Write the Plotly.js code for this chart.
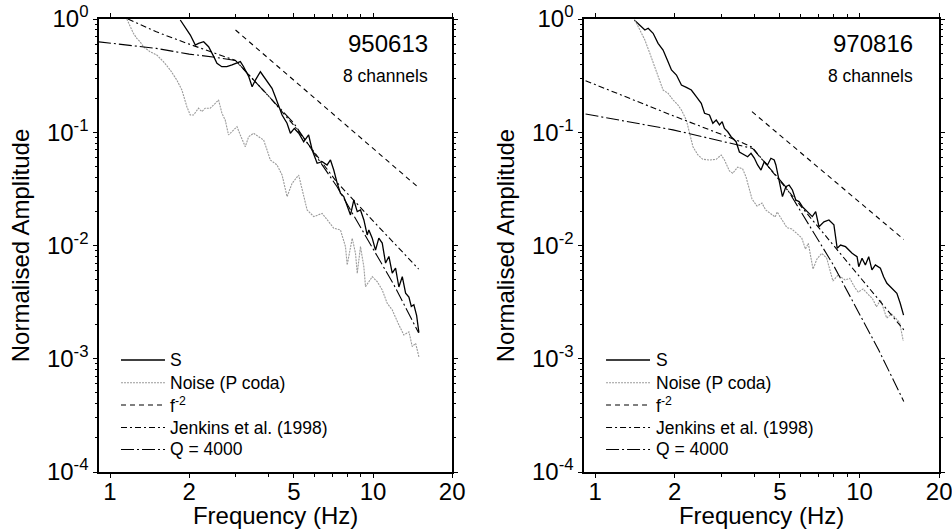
<!DOCTYPE html>
<html>
<head>
<meta charset="utf-8">
<script src="https://cdn.plot.ly/plotly-3.0.1.min.js"></script>
<style>html,body{margin:0;padding:0;background:#fff;}#chart{width:952px;height:529px;}</style>
</head>
<body>
<div id="chart"></div>
<script>
// ---------- Event 950613 (left panel) ----------
const leftS_f = [1.85,1.96,2.02,2.11,2.17,2.27,2.37,2.48,2.55,2.66,2.78,2.91,3.04,3.13,3.22,3.37,3.47,3.57,3.73,3.84,3.95,4.13,4.25,4.38,4.51,4.71,4.85,5.02,5.22,5.45,5.69,5.87,6.13,6.41,6.69,6.89,7.09,7.31,7.52,7.74,8.09,8.21,8.45,8.71,8.96,9.23,9.50,9.64,9.93,10.22,10.52,10.84,11.16,11.49,11.83,12.18,12.54,12.92,13.30,13.69,13.98,14.30,14.65,14.94];
const leftS_a = [0.98,0.80,0.722,0.589,0.61,0.63,0.569,0.465,0.406,0.379,0.379,0.393,0.406,0.42,0.379,0.309,0.252,0.289,0.342,0.309,0.280,0.244,0.206,0.168,0.142,0.120,0.098,0.108,0.098,0.0825,0.0946,0.0697,0.0532,0.055,0.0514,0.0569,0.0464,0.0354,0.0289,0.027,0.0206,0.0186,0.0252,0.0199,0.0206,0.0168,0.0124,0.0137,0.0116,0.0091,0.0116,0.0105,0.0070,0.0080,0.0057,0.0063,0.0043,0.0053,0.0038,0.0035,0.0029,0.0030,0.0024,0.0017];

const leftN_f = [1.158,1.227,1.264,1.301,1.339,1.420,1.506,1.596,1.693,1.795,1.876,1.960,2.018,2.077,2.170,2.235,2.301,2.404,2.512,2.586,2.664,2.742,2.822,2.950,3.039,3.128,3.268,3.365,3.515,3.673,3.837,3.954,4.069,4.315,4.51,4.712,4.923,5.215,5.374,5.614,5.952,6.405,6.787,7.091,7.518,7.857,7.975,8.334,8.578,8.71,8.96,9.226,9.364,9.93,10.375,10.84,11.32,11.83,12.54,13.10,13.69,14.10,14.52,14.94];
const leftN_a = [1.0,0.748,0.675,0.630,0.569,0.514,0.481,0.420,0.355,0.289,0.236,0.168,0.142,0.142,0.163,0.152,0.163,0.163,0.180,0.193,0.147,0.128,0.0946,0.1047,0.112,0.0946,0.0745,0.0913,0.0979,0.0913,0.0854,0.0697,0.0569,0.0514,0.0419,0.027,0.0354,0.0419,0.0309,0.0206,0.018,0.0192,0.0162,0.0142,0.0137,0.00976,0.00673,0.01158,0.00853,0.00568,0.00976,0.0065,0.00433,0.0053,0.00479,0.00405,0.00309,0.0027,0.00199,0.00162,0.00173,0.00128,0.00137,0.00104];

const leftF2_f = [3.0, 15.0];
const leftF2_a = [0.80, 0.032];

const leftJ_f = [1.17, 1.5, 2.0, 2.5, 3.0, 4.0, 5.0, 6.0, 7.3, 10.0, 14.9];
const leftJ_a = [1.0, 0.77, 0.60, 0.50, 0.43, 0.21, 0.115, 0.066, 0.036, 0.0165, 0.0062];

const leftQ_f = [0.9, 1.5, 2.0, 2.5, 3.0, 4.0, 5.0, 7.3, 10.0, 12.0, 14.9];
const leftQ_a = [0.63, 0.55, 0.49, 0.46, 0.43, 0.21, 0.12, 0.033, 0.0092, 0.0045, 0.0017];

// ---------- Event 970816 (right panel) ----------
const rightS_f = [1.406,1.476,1.542,1.587,1.657,1.730,1.807,1.887,1.944,2.030,2.120,2.213,2.311,2.413,2.520,2.593,2.707,2.787,2.871,2.953,3.023,3.084,3.173,3.268,3.413,3.512,3.667,3.774,3.886,3.999,4.115,4.239,4.362,4.487,4.621,4.756,4.826,4.966,5.110,5.263,5.416,5.573,5.740,5.906,6.077,6.346,6.627,6.825,7.023,7.334,7.659,7.998,8.230,8.476,8.851,9.372,9.786,9.931,10.22,10.52,10.83,11.14,11.48,11.99,12.33,12.69,13.07,13.45,13.84,14.25,14.67];
const rightS_a = [0.98,0.885,0.80,0.828,0.748,0.61,0.532,0.42,0.355,0.320,0.261,0.249,0.236,0.206,0.180,0.147,0.142,0.120,0.128,0.116,0.124,0.108,0.101,0.0913,0.0825,0.0669,0.063,0.0608,0.0652,0.0592,0.0514,0.0464,0.055,0.0514,0.0589,0.0569,0.0514,0.0364,0.027,0.033,0.0342,0.0309,0.0252,0.0244,0.022,0.0199,0.018,0.0199,0.01466,0.0162,0.0168,0.0152,0.00945,0.0101,0.00976,0.00853,0.00796,0.0065,0.0077,0.00673,0.00796,0.00608,0.00673,0.00629,0.0053,0.00464,0.00433,0.00405,0.00378,0.00309,0.00243];

const rightN_f = [1.414,1.476,1.542,1.610,1.681,1.756,1.807,1.887,1.970,2.058,2.120,2.213,2.278,2.344,2.447,2.555,2.707,2.871,2.997,3.084,3.221,3.314,3.461,3.613,3.722,3.921,4.094,4.275,4.415,4.594,4.797,4.881,5.084,5.309,5.544,5.789,6.045,6.242,6.400,6.668,6.902,7.190,7.508,7.929,8.301,8.818,9.185,9.618,9.888,10.31,10.74,11.21,11.58,12.02,12.66,13.22,13.69,14.17,14.63];
const rightN_a = [0.98,0.80,0.652,0.498,0.379,0.289,0.236,0.221,0.193,0.174,0.157,0.128,0.0979,0.0745,0.063,0.0577,0.0569,0.0577,0.063,0.0569,0.0455,0.0434,0.0493,0.0474,0.0402,0.0257,0.0223,0.0237,0.0206,0.0192,0.01785,0.01976,0.01714,0.0144,0.01398,0.01263,0.01165,0.0093,0.01046,0.0062,0.0076,0.00853,0.00776,0.00486,0.00549,0.00496,0.00513,0.00421,0.00388,0.00413,0.00373,0.00337,0.00288,0.0033,0.00229,0.00248,0.00229,0.00209,0.00144];

const rightF2_f = [3.92, 14.7];
const rightF2_a = [0.152, 0.0113];

const rightJ_f = [0.92, 1.97, 3.52, 3.92, 5.74, 8.35, 14.7];
const rightJ_a = [0.285, 0.14, 0.083, 0.074, 0.0252, 0.0088, 0.0018];

const rightQ_f = [0.92, 1.97, 3.94, 5.26, 7.94, 11.8, 14.7];
const rightQ_a = [0.145, 0.105, 0.072, 0.033, 0.0068, 0.0012, 0.00042];

// ---------- labels & ticks ----------
const seriesNames = ['S', 'Noise (P coda)', 'f<sup>-2</sup>', 'Jenkins et al. (1998)', 'Q = 4000'];
const panelTitles = ['950613', '970816'];
const panelSubtitle = '8 channels';
const xTickVals = [1, 2, 5, 10, 20];
const xTickText = ['1', '2', '5', '10', '20'];
const xMinorVals = [3, 4, 6, 7, 8, 9];
const yTickVals = [0.0001, 0.001, 0.01, 0.1, 1];
const yTickText = ['10<sup>-4</sup>', '10<sup>-3</sup>', '10<sup>-2</sup>', '10<sup>-1</sup>', '10<sup>0</sup>'];
const yMinorVals = [2e-4,3e-4,4e-4,5e-4,6e-4,7e-4,8e-4,9e-4,2e-3,3e-3,4e-3,5e-3,6e-3,7e-3,8e-3,9e-3,2e-2,3e-2,4e-2,5e-2,6e-2,7e-2,8e-2,9e-2,0.2,0.3,0.4,0.5,0.6,0.7,0.8,0.9];

const FONT = 'Liberation Sans, Arial, Helvetica, sans-serif';

const styles = [
  {color: '#000000', width: 1.3, dash: 'solid'},
  {color: '#9a9a9a', width: 1.1, dash: '2px,1px'},
  {color: '#000000', width: 1.1, dash: '5px,4px'},
  {color: '#000000', width: 1.1, dash: '6px,3px,2px,3px'},
  {color: '#000000', width: 1.1, dash: '13px,3px,2px,3px'}
];

function mk(fx, ay, idx, panel) {
  return {
    type: 'scatter', mode: 'lines', x: fx, y: ay,
    name: seriesNames[idx],
    line: styles[idx],
    xaxis: panel === 0 ? 'x' : 'x2',
    yaxis: panel === 0 ? 'y' : 'y2',
    showlegend: false,
    hoverinfo: 'skip'
  };
}

const traces = [
  mk(leftS_f, leftS_a, 0, 0),
  mk(leftN_f, leftN_a, 1, 0),
  mk(leftF2_f, leftF2_a, 2, 0),
  mk(leftJ_f, leftJ_a, 3, 0),
  mk(leftQ_f, leftQ_a, 4, 0),
  mk(rightS_f, rightS_a, 0, 1),
  mk(rightN_f, rightN_a, 1, 1),
  mk(rightF2_f, rightF2_a, 2, 1),
  mk(rightJ_f, rightJ_a, 3, 1),
  mk(rightQ_f, rightQ_a, 4, 1)
];

function xax(domain, anchor) {
  return {
    type: 'log', domain: domain, anchor: anchor,
    range: [Math.log10(0.908), Math.log10(20)],
    tickmode: 'array', tickvals: xTickVals, ticktext: xTickText,
    ticks: 'outside', ticklen: 4, tickwidth: 1, tickcolor: '#000',
    ticklabelstandoff: -7, ticklabeloverflow: 'allow',
    minor: {tickmode: 'array', tickvals: xMinorVals, ticks: 'outside', ticklen: 3, tickwidth: 1, tickcolor: '#000', showgrid: false},
    showline: true, linecolor: '#000', linewidth: 1.7, mirror: 'ticks',
    showgrid: false, zeroline: false,
    tickfont: {family: FONT, size: 24, color: '#000'},
    title: {text: 'Frequency (Hz)', font: {family: FONT, size: 24, color: '#000'}, standoff: 3}
  };
}
function yax(anchor) {
  return {
    type: 'log', domain: [0, 1], anchor: anchor,
    range: [-4, 0],
    tickmode: 'array', tickvals: yTickVals, ticktext: yTickText,
    ticks: 'outside', ticklen: 4, tickwidth: 1, tickcolor: '#000',
    ticklabeloverflow: 'allow',
    minor: {tickmode: 'array', tickvals: yMinorVals, ticks: 'outside', ticklen: 2.5, tickwidth: 1, tickcolor: '#000', showgrid: false},
    showline: true, linecolor: '#000', linewidth: 1.7, mirror: 'ticks',
    showgrid: false, zeroline: false,
    tickfont: {family: FONT, size: 24, color: '#000'},
    title: {text: 'Normalised Amplitude', font: {family: FONT, size: 24, color: '#000'}, standoff: 10}
  };
}

// manual legends, one per panel (line sample + label)
const legendRowsY = [0.2472, 0.1971, 0.1479, 0.0982, 0.0497];
const legendLineX = [[0.1271, 0.1733], [0.6366, 0.6828]];
const legendTextX = [0.1765, 0.6870];

const shapes = [];
const annotations = [
  {xref: 'paper', yref: 'paper', x: 0.4517, y: 0.947, xanchor: 'right', yanchor: 'middle', text: panelTitles[0], showarrow: false, font: {family: FONT, size: 24, color: '#000'}},
  {xref: 'paper', yref: 'paper', x: 0.4517, y: 0.874, xanchor: 'right', yanchor: 'middle', text: panelSubtitle, showarrow: false, font: {family: FONT, size: 17.5, color: '#000'}},
  {xref: 'paper', yref: 'paper', x: 0.9611, y: 0.947, xanchor: 'right', yanchor: 'middle', text: panelTitles[1], showarrow: false, font: {family: FONT, size: 24, color: '#000'}},
  {xref: 'paper', yref: 'paper', x: 0.9611, y: 0.874, xanchor: 'right', yanchor: 'middle', text: panelSubtitle, showarrow: false, font: {family: FONT, size: 17.5, color: '#000'}}
];
for (let p = 0; p < 2; p++) {
  for (let i = 0; i < seriesNames.length; i++) {
    shapes.push({type: 'line', xref: 'paper', yref: 'paper',
      x0: legendLineX[p][0], x1: legendLineX[p][1], y0: legendRowsY[i], y1: legendRowsY[i],
      line: {color: styles[i].color, width: styles[i].width, dash: styles[i].dash}});
    annotations.push({xref: 'paper', yref: 'paper', x: legendTextX[p], y: legendRowsY[i],
      xanchor: 'left', yanchor: 'middle', text: seriesNames[i], showarrow: false,
      font: {family: FONT, size: 17.5, color: '#000'}});
  }
}

const layout = {
  width: 952, height: 529,
  margin: {l: 0, r: 0, t: 19, b: 57},
  paper_bgcolor: '#fff', plot_bgcolor: '#fff',
  font: {family: FONT, color: '#000'},
  showlegend: false,
  xaxis: xax([0.104, 0.475], 'y'),
  yaxis: yax('x'),
  xaxis2: xax([0.6135, 0.9865], 'y2'),
  yaxis2: yax('x2'),
  shapes: shapes,
  annotations: annotations
};

Plotly.newPlot('chart', traces, layout, {displayModeBar: false, staticPlot: true});
</script>
</body>
</html>
